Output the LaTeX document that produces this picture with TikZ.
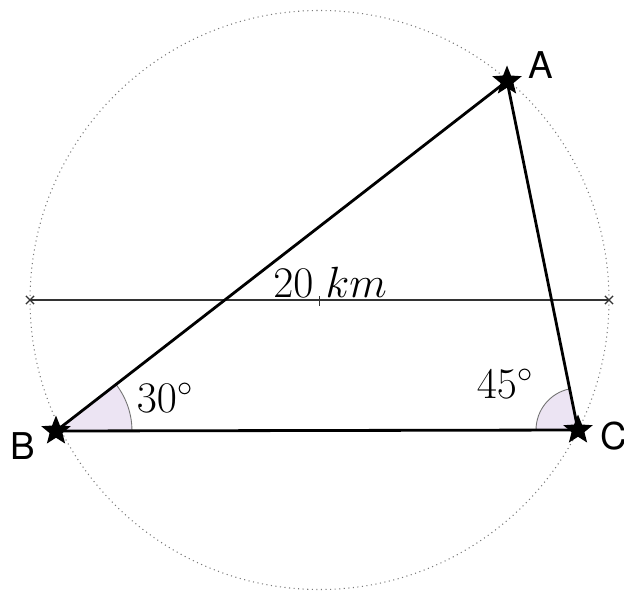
\documentclass[tikz,border=0pt]{standalone}
\usepackage{fontspec}
\setsansfont{TeX Gyre Heros}
\usepackage{tikz}
\usetikzlibrary{shapes.geometric, shapes.misc, angles}

\begin{document}
\begin{tikzpicture}[
    x=0.02cm, y=0.02cm,
    every node/.style={inner sep=0pt},
    vertex/.style={
        star, star points=5, star point ratio=2.3,
        fill=black, draw=none, minimum size=0.62cm
    },
    vname/.style={font=\fontsize{21}{25}\sffamily},
    side/.style={draw=black, line width=1.6pt},
    diam/.style={draw=black!80, line width=0.8pt},
    endmark/.style={cross out, draw=black!80, line width=0.7pt, minimum size=0.14cm},
    wedge/.style={draw=black!55, line width=0.5pt, fill=cWedge},
    deg/.style={font=\fontsize{23}{27}\selectfont}
]
\definecolor{cWedge}{RGB}{236,228,243}
\definecolor{cRing}{RGB}{120,120,120}

\useasboundingbox (0,0) rectangle (624,592);

% Circle and diameter
\coordinate (O) at (319.5,292);
\coordinate (W) at (30,292);
\coordinate (E) at (609,292);
\draw[cRing, dotted, line width=0.6pt] (O) circle (289.5);
\draw[diam] (W) -- (E);
\node[endmark] (wmark) at (W) {};
\node[endmark] (emark) at (E) {};
\draw[diam] (O) ++(0,4) -- ++(0,-10);
\node[deg, anchor=south] (dist) at (330,294) {$20\ km$};

% Triangle
\coordinate (A) at (507,511);
\coordinate (B) at (56,161);
\coordinate (C) at (578,162);

\pic[wedge, angle radius=1.52cm] {angle=C--B--A};
\pic[wedge, angle radius=0.84cm] {angle=A--C--B};

\draw[side] (A) -- (B) -- (C) -- cycle;

\node[vertex] (sA) at (A) {};
\node[vertex] (sB) at (B) {};
\node[vertex] (sC) at (C) {};

\node[vname] (lA) at (541,527) {A};
\node[vname] (lB) at (23,146) {B};
\node[vname] (lC) at (614,156) {C};

\node[deg] (angB) at (165,194) {$30^\circ$};
\node[deg] (angC) at (505,208) {$45^\circ$};

\end{tikzpicture}
\end{document}
